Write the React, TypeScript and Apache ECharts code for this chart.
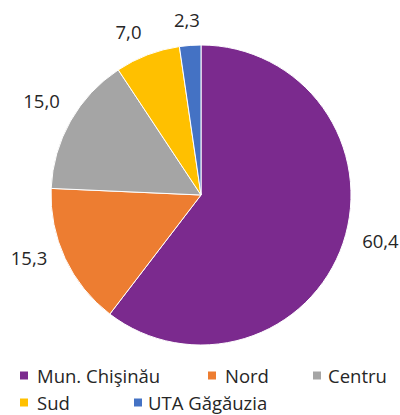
import React, { useEffect, useRef } from "react";
import * as echarts from "echarts";

const categories = ["Mun. Chişinău", "Nord", "Centru", "Sud", "UTA Găgăuzia"];
const values = [60.4, 15.3, 15.0, 7.0, 2.3];
const colors = ["#7B2A8E", "#ED7D31", "#A5A5A5", "#FFC000", "#4472C4"];

// legend item placement (row top, left) and icon-to-text padding
const legendPos = [
  { left: 13, top: 361, pad: 3 },
  { left: 201, top: 361, pad: 3 },
  { left: 306, top: 361, pad: 1 },
  { left: 13, top: 388, pad: 3 },
  { left: 127, top: 388, pad: 0 },
];
// small label nudges to follow the reference's label placement
const labelNudge = [
  [8, -13],
  [-8, -14],
  [-2, -5],
  [-8, 6],
  [-1, 5],
];

export default function App() {
  const ref = useRef<HTMLDivElement>(null);
  useEffect(() => {
    if (!ref.current) return;
    const chart = echarts.init(ref.current, undefined, { renderer: "svg" });
    const font = "'Open Sans', 'Noto Sans', sans-serif";
    chart.setOption({
      animation: false,
      color: colors,
      textStyle: { fontFamily: font },
      legend: categories.map((c, i) => ({
        data: [c],
        left: legendPos[i].left,
        top: legendPos[i].top,
        itemWidth: 10,
        itemHeight: 10,
        icon: "rect",
        itemGap: 0,
        textStyle: {
          fontSize: 18.5,
          color: "#262626",
          fontFamily: font,
          padding: [0, 0, 0, legendPos[i].pad],
        },
      })),
      series: [
        {
          type: "pie",
          center: [201, 195],
          radius: 150,
          startAngle: 90,
          clockwise: true,
          avoidLabelOverlap: false,
          itemStyle: { borderColor: "#fff", borderWidth: 1 },
          label: {
            show: true,
            position: "outside",
            formatter: (p: any) => p.value.toFixed(1).replace(".", ","),
            fontSize: 18.5,
            color: "#262626",
            fontFamily: font,
          },
          labelLine: {
            show: true,
            length: 31,
            length2: 0,
            lineStyle: { opacity: 0, width: 0 },
          },
          labelLayout: (params: any) => {
            const pts = params.labelLinePoints;
            if (!pts) return {};
            const n = labelNudge[params.dataIndex] || [0, 0];
            return {
              x: pts[1][0] + n[0],
              y: pts[1][1] + n[1],
              align: "center",
              verticalAlign: "middle",
            };
          },
          data: categories.map((c, i) => ({ name: c, value: values[i] })),
        },
      ],
    });
    return () => chart.dispose();
  }, []);
  return <div ref={ref} style={{ width: 400, height: 415, position: "absolute", left: 0, top: 0 }} />;
}
